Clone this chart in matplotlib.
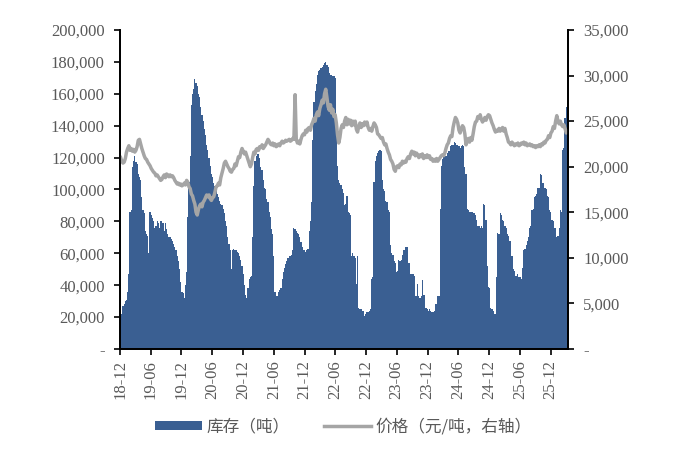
import matplotlib.pyplot as plt
import matplotlib.dates as mdates
import pandas as pd
import numpy as np

# Weekly data starting 2018-12-01
start_date = '2018-12-01'

# inventory, thousand tonnes (left axis)
inventory_kt = [
    21, 22, 27, 28, 30, 31, 36, 47, 86, 87,
    114, 118, 121, 117, 116, 110, 108, 106, 95, 87,
    85, 74, 72, 71, 60, 86, 84, 82, 80, 76,
    77, 80, 79, 76, 80, 80, 79, 74, 79, 75,
    72, 70, 70, 69, 68, 66, 64, 62, 58, 55,
    50, 42, 36, 35, 32, 40, 48, 83, 105, 121,
    153, 160, 163, 169, 167, 165, 160, 158, 152, 147,
    143, 138, 134, 128, 125, 120, 115, 110, 108, 104,
    102, 100, 97, 95, 93, 91, 90, 88, 85, 80,
    77, 70, 66, 62, 50, 62, 63, 62, 62, 61,
    60, 58, 56, 52, 47, 40, 34, 32, 38, 44,
    45, 46, 70, 102, 118, 121, 122, 122, 120, 114,
    112, 106, 101, 100, 94, 92, 86, 83, 75, 72,
    58, 36, 33, 33, 36, 37, 38, 44, 48, 51,
    53, 55, 57, 58, 58, 59, 62, 76, 75, 74,
    73, 72, 70, 67, 64, 62, 62, 61, 62, 63,
    74, 80, 92, 131, 155, 162, 166, 172, 174, 175,
    176, 177, 178, 179, 180, 178, 177, 173, 172, 172,
    171, 171, 170, 140, 115, 106, 104, 103, 100, 98,
    90, 91, 96, 86, 85, 84, 58, 60, 58, 57,
    41, 58, 26, 25, 25, 24, 24, 21, 22, 23,
    23, 24, 25, 44, 45, 105, 118, 121, 123, 124,
    125, 124, 106, 100, 99, 93, 92, 87, 86, 65,
    60, 59, 55, 54, 48, 49, 56, 55, 56, 59,
    62, 62, 64, 64, 54, 54, 47, 47, 47, 46,
    33, 33, 41, 33, 32, 33, 43, 34, 34, 26,
    25, 24, 25, 24, 23, 23, 24, 28, 28, 33,
    33, 88, 115, 119, 121, 122, 121, 123, 124, 124,
    127, 128, 128, 130, 129, 128, 128, 127, 126, 127,
    128, 127, 114, 110, 88, 87, 86, 86, 86, 85,
    85, 84, 81, 77, 77, 76, 77, 76, 91, 90,
    81, 52, 39, 38, 26, 25, 24, 22, 22, 45,
    73, 72, 85, 84, 81, 80, 77, 76, 72, 71,
    68, 68, 58, 50, 49, 46, 46, 47, 45, 45,
    44, 51, 62, 63, 65, 68, 70, 76, 77, 87,
    88, 95, 96, 97, 101, 101, 110, 109, 104, 104,
    101, 100, 96, 95, 87, 86, 81, 80, 76, 76,
    70, 71, 76, 87, 86, 125, 126, 145, 152, 152,
]

# price, thousand yuan/tonne (right axis)
price_k = [
    21.0, 20.6, 20.4, 20.5, 20.9, 21.6, 22.0, 22.3, 21.8, 22.0,
    21.7, 21.9, 21.6, 21.8, 22.2, 22.9, 23.0, 22.5, 22.0, 21.6,
    21.2, 20.9, 20.8, 20.5, 20.3, 20.1, 19.8, 19.6, 19.4, 19.3,
    19.0, 19.1, 18.9, 18.7, 18.5, 18.6, 18.9, 19.1, 18.8, 19.2,
    19.1, 18.9, 19.1, 18.9, 19.0, 18.8, 18.5, 18.3, 18.1, 18.2,
    18.0, 18.1, 17.9, 18.0, 18.2, 18.0, 18.5, 18.3, 17.8, 17.6,
    17.0, 16.8, 16.3, 15.9, 15.0, 14.7, 15.3, 15.7, 15.9, 15.6,
    16.1, 16.3, 16.6, 16.9, 16.7, 16.9, 16.5, 16.3, 16.6, 16.7,
    17.2, 17.8, 17.9, 18.2, 18.0, 18.8, 19.3, 19.8, 20.4, 20.6,
    20.3, 20.0, 19.8, 19.5, 19.4, 19.7, 19.8, 20.3, 20.1, 20.6,
    21.1, 21.0, 21.6, 22.0, 21.7, 21.4, 21.6, 21.2, 20.8, 20.4,
    20.0, 20.3, 21.0, 21.6, 21.4, 21.9, 22.0, 21.8, 22.2, 22.1,
    22.4, 22.0, 22.2, 22.4, 22.7, 23.0, 22.8, 22.5, 22.4, 22.6,
    22.3, 22.5, 22.2, 22.3, 22.5, 22.3, 22.6, 22.8, 22.6, 22.7,
    22.9, 22.8, 22.9, 23.0, 22.8, 22.9, 23.1, 23.0, 27.9, 23.0,
    22.6, 22.8, 22.5, 23.0, 23.4, 23.6, 23.5, 24.0, 23.8, 24.2,
    24.3, 24.0, 24.6, 24.9, 25.3, 25.0, 25.7, 26.0, 25.6, 26.4,
    26.8, 27.3, 27.0, 28.0, 28.5, 27.6, 26.6, 26.2, 26.8, 25.9,
    26.3, 25.5, 25.7, 24.8, 23.5, 22.6, 23.2, 24.2, 24.6, 24.3,
    25.0, 25.4, 24.6, 25.2, 24.7, 25.1, 24.5, 25.0, 24.6, 25.0,
    24.1, 23.8, 24.4, 24.8, 24.3, 24.7, 24.5, 24.9, 24.6, 24.9,
    24.3, 24.0, 24.2, 23.9, 24.4, 24.8, 24.6, 24.3, 23.6, 23.5,
    23.3, 23.1, 23.2, 22.7, 22.4, 22.5, 22.0, 21.6, 21.3, 20.8,
    20.6, 20.3, 19.7, 19.5, 20.0, 20.1, 19.9, 20.3, 20.2, 20.6,
    20.4, 20.6, 20.5, 20.9, 21.1, 20.9, 21.4, 21.7, 21.4, 21.6,
    21.2, 21.5, 21.3, 21.0, 21.3, 21.1, 21.4, 20.9, 21.2, 21.0,
    21.3, 21.0, 21.2, 20.8, 20.9, 20.6, 20.8, 20.6, 20.9, 20.6,
    20.8, 21.0, 21.2, 21.3, 21.2, 21.5, 22.0, 22.4, 22.6, 23.1,
    23.4, 23.3, 24.3, 24.9, 25.4, 25.2, 24.8, 24.0, 23.7, 24.2,
    24.5, 24.3, 23.6, 22.4, 22.8, 23.1, 22.7, 23.2, 22.9, 23.6,
    24.4, 24.9, 25.0, 25.5, 25.3, 25.7, 25.2, 24.9, 25.1, 25.4,
    25.1, 25.5, 25.7, 25.6, 25.2, 24.8, 24.5, 24.1, 23.8, 24.0,
    23.9, 24.2, 23.9, 24.1, 24.3, 23.9, 24.2, 23.6, 23.2, 22.7,
    22.6, 22.4, 22.7, 22.5, 22.3, 22.5, 22.4, 22.6, 22.3, 22.4,
    22.6, 22.5, 22.7, 22.4, 22.6, 22.3, 22.4, 22.5, 22.3, 22.4,
    22.2, 22.3, 22.1, 22.3, 22.2, 22.4, 22.2, 22.5, 22.4, 22.7,
    22.6, 22.9, 23.0, 23.4, 23.2, 23.7, 23.9, 24.4, 24.2, 25.0,
    25.6, 25.0, 24.7, 25.0, 24.6, 24.4, 24.6, 24.2, 23.7, 23.9,
]

dates = pd.date_range(start_date, periods=len(inventory_kt), freq='7D')
inventory = np.array(inventory_kt) * 1000
price = np.array(price_k) * 1000

plt.rcParams['font.family'] = ['Liberation Serif', 'Noto Sans CJK SC']
text_color = '#595959'

fig = plt.figure(figsize=(6.8, 4.57), dpi=100)
ax = fig.add_axes([0.1765, 0.2363, 0.6588, 0.6981])
ax2 = ax.twinx()

bars = ax.bar(dates, inventory, width=7, align='edge', color='#3A5F92',
              linewidth=0, label='库存（吨）')
line, = ax2.plot(dates + pd.Timedelta(days=3.5), price, color='#A5A5A5',
                 linewidth=2.5, label='价格（元/吨，右轴）')

ax.set_xlim(pd.Timestamp('2018-12-01'), dates[-1] + pd.Timedelta(days=7))
ax.set_ylim(0, 200000)
ax2.set_ylim(0, 35000)
ax.set_yticks(np.arange(0, 200001, 20000))
ax2.set_yticks(np.arange(0, 35001, 5000))


def fmt(v, pos=None):
    return '-' if v == 0 else f'{v:,.0f}'


ax.yaxis.set_major_formatter(plt.FuncFormatter(fmt))
ax2.yaxis.set_major_formatter(plt.FuncFormatter(fmt))

ax.xaxis.set_major_locator(mdates.MonthLocator(bymonth=[6, 12]))
ax.xaxis.set_major_formatter(mdates.DateFormatter('%y-%m'))
for lbl in ax.get_xticklabels():
    lbl.set_rotation(90)

for a in (ax, ax2):
    a.spines['top'].set_visible(False)
    for s in ('left', 'right', 'bottom'):
        a.spines[s].set_color('black')
        a.spines[s].set_linewidth(1.3)
    a.tick_params(axis='both', direction='out', length=4, width=1.2,
                  labelsize=12, colors='black', labelcolor=text_color)
ax.tick_params(axis='y', pad=7)
ax2.tick_params(axis='y', pad=7)
ax.tick_params(axis='x', pad=4)

leg = fig.legend([bars, line], ['库存（吨）', '价格（元/吨，右轴）'],
                 loc='center', bbox_to_anchor=(0.505, 0.066), ncol=2,
                 frameon=False, handlelength=2.8, handleheight=0.5,
                 handletextpad=0.25, columnspacing=2.1, labelcolor=text_color,
                 prop={'family': ['Noto Sans CJK SC'], 'size': 12})

fig.savefig('out.png', dpi=100)
